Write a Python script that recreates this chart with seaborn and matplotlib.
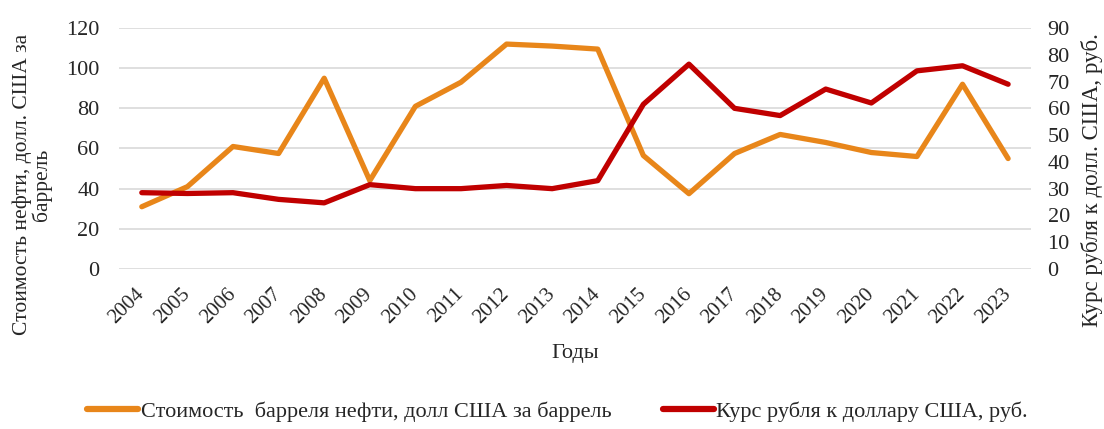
import pandas as pd
import seaborn as sns
import matplotlib.pyplot as plt
from matplotlib.lines import Line2D

# values
years = list(range(2004, 2024))
oil_price = [31, 41, 61, 57.5, 95, 44, 81, 93, 112, 111,
             109.5, 56.5, 37.5, 57.5, 67, 63, 58, 56, 92, 55]
rub_usd = [28.5, 28.2, 28.5, 26, 24.7, 31.5, 30, 30, 31.2, 30,
           33, 61.5, 76.5, 60, 57.3, 67.2, 62, 74, 75.9, 69]

oil_label = "Стоимость  барреля нефти, долл США за баррель"
rub_label = "Курс рубля к доллару США, руб."

data = pd.DataFrame({"year": [str(y) for y in years],
                     "oil": oil_price, "rub": rub_usd})

sns.set_style("white")
plt.rcParams['font.family'] = ['Liberation Serif', 'DejaVu Serif']

orange = "#E8861A"
red = "#C00000"
txt = "#262626"

fig = plt.figure(figsize=(11.04, 4.29), dpi=100)
ax = fig.add_axes([0.1078, 0.373, 0.826, 0.5617])
ax2 = ax.twinx()

sns.lineplot(data=data, x="year", y="oil", ax=ax, color=orange, linewidth=3.8, sort=False)
sns.lineplot(data=data, x="year", y="rub", ax=ax2, color=red, linewidth=3.8, sort=False)

ax.set_ylim(0, 120)
ax.set_yticks(range(0, 121, 20))
ax2.set_ylim(0, 90)
ax2.set_yticks(range(0, 91, 10))
ax.set_xlim(-0.5, len(years) - 0.5)

ax.yaxis.grid(True, color="#D9D9D9", linewidth=1.2)
ax.set_axisbelow(True)
for a in (ax, ax2):
    for s in a.spines.values():
        s.set_visible(False)
    a.tick_params(length=0, labelsize=16, colors=txt)

ax.tick_params(axis="y", pad=14)
ax2.tick_params(axis="y", pad=12)
ax.tick_params(axis="x", labelsize=15, pad=16)
plt.setp(ax.get_xticklabels(), rotation=45, ha="right", va="center",
         rotation_mode="anchor")

ax.set_xlabel("Годы", fontsize=16, color=txt, va="center")
ax.xaxis.set_label_coords(0.5, -0.35)
ax.set_ylabel("Стоимость нефти, долл. США за\nбаррель", fontsize=15.5,
              color=txt, linespacing=0.95, va="center")
ax.yaxis.set_label_coords(-0.095, 0.35)
ax2.set_ylabel("Курс рубля к долл. США, руб.", fontsize=16.5, color=txt, va="center")
ax2.yaxis.set_label_coords(1.067, 0.37)

handles = [Line2D([], [], color=orange, linewidth=4.5),
           Line2D([], [], color=red, linewidth=4.5)]
fig.legend(handles, [oil_label, rub_label], loc="center", ncol=2,
           bbox_to_anchor=(0.505, 0.04), frameon=False, fontsize=16,
           handlelength=2.3, handletextpad=0.12, columnspacing=2.3,
           labelcolor=txt)

fig.savefig("out.png", dpi=100)
